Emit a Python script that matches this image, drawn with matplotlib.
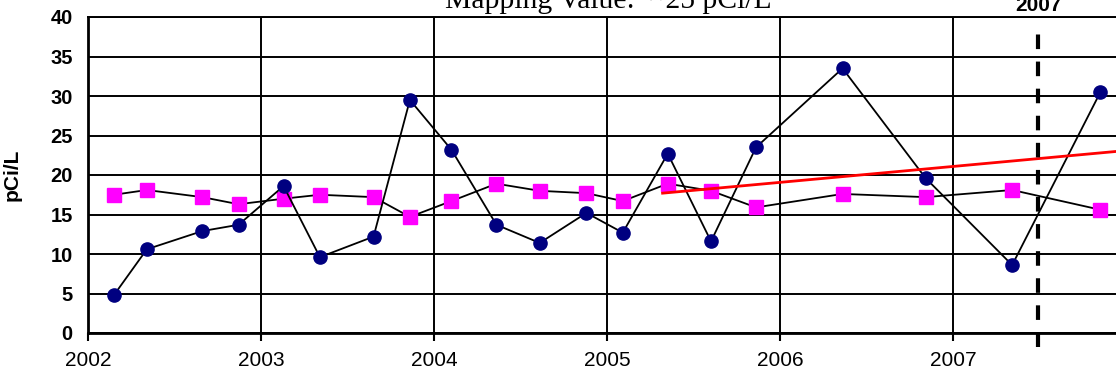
import matplotlib
matplotlib.use("Agg")
import matplotlib.pyplot as plt

# sample dates (decimal years) and concentrations
dates = [2002.15, 2002.34, 2002.66, 2002.87, 2003.13, 2003.34, 2003.65, 2003.86,
         2004.10, 2004.36, 2004.61, 2004.88, 2005.09, 2005.35, 2005.60, 2005.86,
         2006.36, 2006.84, 2007.34, 2007.85]
radon = [4.8, 10.6, 12.9, 13.7, 18.6, 9.6, 12.2, 29.5,
         23.2, 13.7, 11.4, 15.2, 12.7, 22.7, 11.6, 23.5,
         33.5, 19.6, 8.6, 30.5]
background = [17.5, 18.1, 17.2, 16.3, 17.0, 17.5, 17.2, 14.7,
              16.7, 18.9, 18.0, 17.7, 16.7, 18.9, 18.0, 15.9,
              17.6, 17.2, 18.1, 15.6]
trend_x = [2005.32, 2008.0]
trend_y = [17.7, 23.1]
year_ticks = [2002, 2003, 2004, 2005, 2006, 2007]
y_ticks = [0, 5, 10, 15, 20, 25, 30, 35, 40]
marker_year = 2007.49
title = "Mapping Value:  ~25 pCi/L"

plt.rcParams['font.family'] = ['Liberation Sans', 'DejaVu Sans']

fig = plt.figure(figsize=(11.16, 3.77), dpi=100)
ax = fig.add_axes([88 / 1116, 1 - 333 / 377, 1 - 88 / 1116, (333 - 17) / 377])

ax.set_xlim(2002, 2007.94)
ax.set_ylim(0, 40)
ax.set_xticks(year_ticks)
ax.set_xticklabels([str(y) for y in year_ticks], fontsize=15)
ax.set_yticks(y_ticks)
ax.set_yticklabels([str(y) for y in y_ticks], fontsize=14.5, fontweight="bold")
ax.tick_params(axis="x", length=6, width=1.5, direction="out", pad=7, color="black")
ax.tick_params(axis="y", length=0, pad=11)
ax.grid(True, color="black", linewidth=1.4)
ax.set_axisbelow(True)

ax.spines["right"].set_visible(False)
ax.spines["top"].set_linewidth(1.4)
ax.spines["left"].set_linewidth(2)
ax.spines["bottom"].set_linewidth(2)

ax.plot(dates, background, color="black", linewidth=1.3, marker="s",
        markersize=10, markerfacecolor="#ff00ff", markeredgecolor="#ff00ff",
        zorder=3)
ax.plot(dates, radon, color="black", linewidth=1.3, marker="o",
        markersize=9.5, markerfacecolor="#000080", markeredgecolor="#000080",
        zorder=4)
ax.plot(trend_x, trend_y, color="red", linewidth=2, zorder=5)

ax.plot([marker_year, marker_year], [-1.8, 39.4], color="black", linewidth=3,
        linestyle=(0, (3.5, 3)), clip_on=False, zorder=6)
fig.text(1038 / 1116, 1 - 11 / 377, "2007", ha="center", va="baseline",
         fontsize=15, fontweight="bold")

ax.set_ylabel("pCi/L", fontsize=15, fontweight="bold")
ax.yaxis.set_label_coords(-66 / 1028, 0.5)

fig.text(608 / 1116, 1 - 8 / 377, title, ha="center", va="baseline",
         fontsize=21.3, family=["Liberation Serif", "DejaVu Serif"])

fig.savefig("out.png", dpi=100)
